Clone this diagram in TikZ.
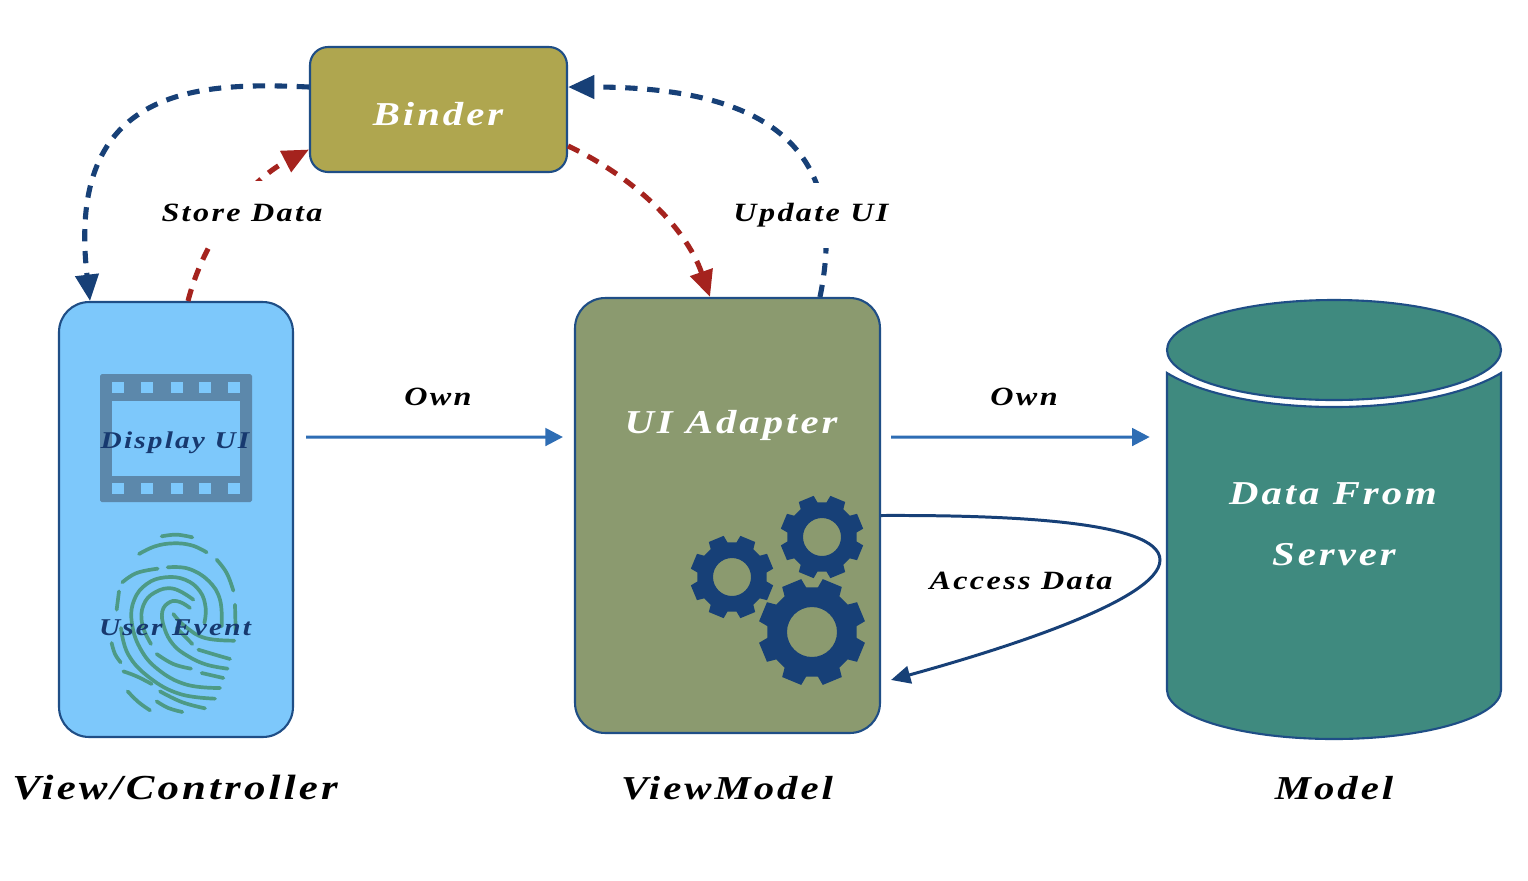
\documentclass[tikz,border=0pt]{standalone}
\usepackage{fontspec}
\usepackage{tikz}
\usetikzlibrary{arrows.meta}
\newfontfamily\handfont[LetterSpace=9,FakeStretch=1.22]{Liberation Serif}
\definecolor{edgeblue}{HTML}{1F4E86}
\definecolor{arrowblue}{HTML}{174077}
\definecolor{ownblue}{HTML}{2E6DB4}
\definecolor{arrowred}{HTML}{A5231E}
\definecolor{binderfill}{HTML}{AFA64F}
\definecolor{viewfill}{HTML}{7DC8FB}
\definecolor{vmfill}{HTML}{8B9A6F}
\definecolor{modelfill}{HTML}{3F8A7F}
\definecolor{filmfill}{HTML}{5C88AB}
\definecolor{printfill}{HTML}{4D9A85}
\definecolor{innertext}{HTML}{17396F}
\tikzset{
  panel/.style={draw=edgeblue, line width=1.2pt, rounded corners=0.6cm, minimum width=#1, minimum height=8.7cm},
  bigtext/.style={font=\handfont\bfseries\itshape\fontsize{19}{22}\selectfont},
  smalltext/.style={font=\handfont\bfseries\itshape\fontsize{15}{18}\selectfont},
  innerlabel/.style={font=\handfont\bfseries\itshape\fontsize{13.7}{16}\selectfont, text=innertext},
  dashedarrow/.style={dashed, dash pattern=on 7pt off 5.5pt, line width=2.9pt, -{Triangle[length=15pt,width=13pt]}},
  ownarrow/.style={line width=1.7pt, ownblue, -{Triangle[length=10pt,width=10pt]}},
  ridge/.style={printfill, line width=2.1pt, line cap=round, smooth, tension=0.7}
}
% toothed wheel: centre x, centre y, tip radius, root radius, hole radius
\newcommand{\gearwheel}[5]{
  \fill[arrowblue, even odd rule]
    ({#1+#4*cos(7.5)},{#2+#4*sin(7.5)})
    foreach \a in {22.5,67.5,...,337.5} {
      -- ({#1+#4*cos(\a-15)},{#2+#4*sin(\a-15)})
      -- ({#1+#3*cos(\a-11)},{#2+#3*sin(\a-11)})
      -- ({#1+#3*cos(\a+11)},{#2+#3*sin(\a+11)})
      -- ({#1+#4*cos(\a+15)},{#2+#4*sin(\a+15)})
    } -- cycle
    (#1,#2) circle[radius=#5];
}
\begin{document}
\begin{tikzpicture}[x=0.02cm, y=-0.02cm]
\useasboundingbox (0,0) rectangle (1528,880);
\fill[white] (0,0) rectangle (1528,880);

\node[panel=4.68cm, fill=viewfill] (view) at (176,519.5) {};
\node[panel=6.1cm, fill=vmfill] (vm) at (727.5,515.5) {};
\node[draw=edgeblue, line width=1.2pt, fill=binderfill, rounded corners=0.36cm, minimum width=5.14cm, minimum height=2.5cm] (binder) at (438.5,109.5) {};
\node[bigtext, text=white] (bindername) at (438,114) {Binder};
\node[minimum width=6.68cm, minimum height=8.8cm] (model) at (1334,519.5) {};

% database
\filldraw[draw=edgeblue, line width=1.2pt, fill=modelfill]
  (1167,373) .. controls (1205,396) and (1270,407) .. (1334,407)
  .. controls (1398,407) and (1463,396) .. (1501,373)
  -- (1501,690) .. controls (1501,717) and (1426,739) .. (1334,739)
  .. controls (1242,739) and (1167,717) .. (1167,690) -- cycle;
\filldraw[draw=edgeblue, line width=1.2pt, fill=modelfill] (1334,350) ellipse[x radius=167, y radius=50];

% film strip
\fill[filmfill, rounded corners=1pt] (100,374) rectangle (252,502);
\fill[viewfill] (112,401) rectangle (240,476);
\foreach \x in {112,141,171,199,228} {
  \fill[viewfill] (\x,382) rectangle +(12,11);
  \fill[viewfill] (\x,483) rectangle +(12,11);
}

% fingerprint
\begin{scope}[shift={(105,528)}, x=0.00667cm, y=-0.00667cm]
\draw[ridge] plot coordinates {(170,25)(215,20)(262,28)};
\draw[ridge] plot coordinates {(102,78)(150,55)(205,46)(260,52)(305,73)};
\draw[ridge] plot coordinates {(52,163)(95,135)(158,122)};
\draw[ridge] plot coordinates {(188,118)(250,122)(310,158)(345,215)(350,295)};
\draw[ridge] plot coordinates {(335,95)(365,135)(385,188)};
\draw[ridge] plot coordinates {(390,230)(392,310)};
\draw[ridge] plot coordinates {(35,245)(42,190)};
\draw[ridge] plot coordinates {(345,480)(245,470)(160,425)(105,360)(80,280)(88,215)(125,168)(180,148)(240,155)(285,190)(302,240)(298,285)};
\draw[ridge] plot coordinates {(138,348)(112,290)(115,232)(150,193)(205,182)(265,215)};
\draw[ridge] plot coordinates {(255,240)(225,222)(195,222)(172,250)(178,300)(205,350)(250,385)(305,410)(368,422)};
\draw[ridge] plot coordinates {(205,258)(240,295)(300,330)(388,338)};
\draw[ridge] plot coordinates {(215,300)(262,348)};
\draw[ridge] plot coordinates {(155,378)(205,408)(258,422)};
\draw[ridge] plot coordinates {(280,365)(330,380)(375,393)};
\draw[ridge] plot coordinates {(290,435)(355,450)};
\draw[ridge] plot coordinates {(48,300)(70,380)(135,450)(225,498)(330,512)};
\draw[ridge] plot coordinates {(20,345)(30,378)(47,403)};
\draw[ridge] plot coordinates {(55,430)(95,445)(140,468)};
\draw[ridge] plot coordinates {(68,490)(100,522)(135,547)};
\draw[ridge] plot coordinates {(165,490)(230,522)(300,541)};
\draw[ridge] plot coordinates {(155,520)(190,540)(232,552)};
\end{scope}

\gearwheel{732}{577}{42}{35}{19}
\gearwheel{822}{537}{42}{35}{19}
\gearwheel{812}{632}{54}{45}{25}

\node[innerlabel] (display) at (175,443) {Display UI};
\node[innerlabel] (event) at (175,628) {User Event};

% binder links
\draw[dashedarrow, arrowblue] ([yshift=0.45cm] binder.west) .. controls (200,82) and (65,85) .. ([xshift=-1.72cm] view.north);
\draw[dashedarrow, arrowred] ([xshift=0.24cm] view.north) .. controls (205,235) and (250,180) .. ([yshift=-0.8cm] binder.west);
\draw[dashedarrow, arrowred] ([yshift=-0.73cm] binder.east) .. controls (630,175) and (685,225) .. ([xshift=-0.35cm] vm.north);
\draw[dashedarrow, arrowblue] ([xshift=1.85cm] vm.north) .. controls (850,150) and (770,87) .. ([yshift=0.45cm] binder.east);
\node[smalltext, fill=white, minimum height=1.3cm] (store) at (242,213) {Store Data};
\node[smalltext, fill=white, minimum height=1.3cm] (update) at (811,215) {Update UI};

% ownership
\draw[ownarrow] ([xshift=0.24cm, yshift=1.65cm] view.east) -- ([xshift=-0.22cm, yshift=1.57cm] vm.west);
\draw[ownarrow] ([xshift=0.2cm, yshift=1.57cm] vm.east) -- ([xshift=-0.34cm, yshift=1.65cm] model.west);
\node[smalltext] (ownleft) at (438,397) {Own};
\node[smalltext] (ownright) at (1024,397) {Own};

% data access
\coordinate (bulge) at (1160,560);
\draw[line width=1.7pt, arrowblue, -{Triangle[length=11pt,width=10pt]}] (vm.east) .. controls (1000,515) and (1160,520) .. (bulge)
  .. controls (1160,600) and (1000,650) .. ([xshift=0.2cm, yshift=-3.29cm] vm.east);
\node[smalltext] (access) at (1021,581) {Access Data};

\node[bigtext, text=white] (adapter) at (731,425) {UI Adapter};
\node[bigtext, text=white] (from) at (1333,494) {Data From};
\node[bigtext, text=white] (server) at (1334,555) {Server};

\node[bigtext, font=\handfont\bfseries\itshape\fontsize{20}{24}\selectfont] (viewname) at (175,788) {View/Controller};
\node[bigtext] (vmname) at (727,788) {ViewModel};
\node[bigtext] (modelname) at (1334,788) {Model};
\end{tikzpicture}
\end{document}
